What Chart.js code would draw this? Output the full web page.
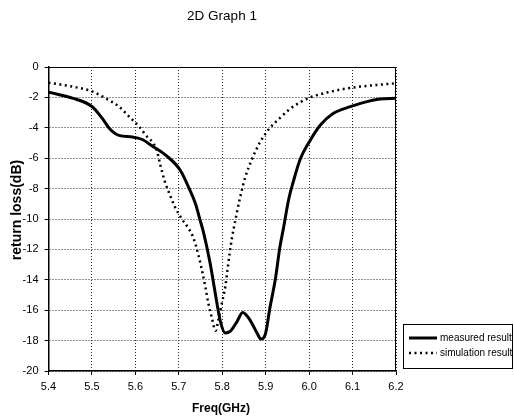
<!DOCTYPE html>
<html><head><meta charset="utf-8">
<script src="https://cdn.jsdelivr.net/npm/chart.js@4/dist/chart.umd.min.js"></script>
<style>html,body{margin:0;padding:0;background:#fff}#wrap{width:514px;height:420px}</style>
</head><body><div id="wrap"><canvas id="c" width="514" height="420"></canvas></div>
<script>
const chartTitle = "2D Graph 1";
const xTitle = "Freq(GHz)";
const yTitle = "return loss(dB)";
const seriesNames = ["measured result", "simulation result"];
const measuredFreq = [5.40,5.455,5.50,5.523,5.542,5.562,5.593,5.616,5.639,5.672,5.703,5.722,5.738,5.749,5.757,5.772,5.784,5.795,5.807,5.818,5.834,5.847,5.864,5.88,5.889,5.899,5.91,5.922,5.933,5.941,5.953,5.964,5.979,6.003,6.026,6.056,6.095,6.133,6.163,6.20];
const measuredLoss = [-1.65,-2.05,-2.6,-3.35,-4.1,-4.5,-4.6,-4.77,-5.2,-5.85,-6.78,-7.88,-8.97,-10.07,-10.9,-12.9,-14.9,-16.65,-17.5,-17.4,-16.75,-16.15,-16.65,-17.5,-17.9,-17.6,-15.8,-14.0,-11.8,-10.6,-8.7,-7.5,-6.1,-4.8,-3.82,-3.05,-2.61,-2.28,-2.11,-2.05];
const simFreq = [5.40,5.455,5.50,5.531,5.562,5.585,5.608,5.623,5.649,5.657,5.668,5.68,5.691,5.707,5.722,5.733,5.745,5.753,5.761,5.768,5.776,5.785,5.791,5.799,5.807,5.812,5.817,5.822,5.83,5.841,5.853,5.868,5.887,5.91,5.933,5.956,5.979,6.003,6.041,6.079,6.118,6.156,6.20];
const simLoss = [-1.03,-1.29,-1.6,-2.05,-2.6,-3.25,-3.9,-4.45,-5.46,-6.4,-7.55,-8.45,-9.2,-10.0,-10.6,-11.2,-12.35,-13.35,-14.45,-15.55,-16.5,-17.35,-16.65,-15.55,-14.45,-13.35,-12.25,-11.3,-10.1,-8.6,-7.25,-6.1,-4.95,-4.0,-3.35,-2.76,-2.33,-1.99,-1.68,-1.45,-1.29,-1.18,-1.07];
const xTicks = [5.4,5.5,5.6,5.7,5.8,5.9,6.0,6.1,6.2];
const yTicks = [0,-2,-4,-6,-8,-10,-12,-14,-16,-18,-20];

const FONT = "'Liberation Sans', Arial, sans-serif";
const NARROW = "'Liberation Sans Narrow', 'Liberation Sans', Arial, sans-serif";
const toPts = (xs, ys) => xs.map((x, i) => ({x, y: ys[i]}));

const extras = {
  id: 'extras',
  afterDraw(chart) {
    const ctx = chart.ctx, a = chart.chartArea;
    ctx.save();
    ctx.strokeStyle = '#000'; ctx.lineWidth = 1;
    ctx.beginPath();
    ctx.moveTo(a.left, a.top + 0.5); ctx.lineTo(a.right - 0.5, a.top + 0.5); ctx.lineTo(a.right - 0.5, a.bottom);
    ctx.stroke();
    ctx.fillStyle = '#000';
    ctx.font = "13.5px " + FONT;
    ctx.textAlign = 'center'; ctx.textBaseline = 'middle';
    ctx.fillText(chartTitle, 222, 16);
    ctx.font = "bold 12px " + FONT;
    ctx.fillText(xTitle, 221, 409);
    ctx.save();
    ctx.translate(17, 210); ctx.rotate(-Math.PI / 2);
    ctx.font = "bold 14px " + FONT;
    ctx.fillText(yTitle, 0, 0);
    ctx.restore();
    const bx = 403, by = 324, bw = 110, bh = 45;
    ctx.fillStyle = '#fff';
    ctx.fillRect(bx, by, bw, bh);
    ctx.strokeStyle = '#000'; ctx.lineWidth = 1;
    ctx.strokeRect(bx + 0.5, by + 0.5, bw - 1, bh - 1);
    ctx.lineWidth = 3; ctx.setLineDash([]);
    ctx.beginPath(); ctx.moveTo(409, 338); ctx.lineTo(437, 338); ctx.stroke();
    ctx.lineWidth = 2.5; ctx.setLineDash([2, 3.5]);
    ctx.beginPath(); ctx.moveTo(409, 353); ctx.lineTo(437, 353); ctx.stroke();
    ctx.setLineDash([]);
    ctx.fillStyle = '#000';
    ctx.font = "10px " + NARROW;
    ctx.textAlign = 'left'; ctx.textBaseline = 'middle';
    ctx.fillText(seriesNames[0], 440, 338);
    ctx.fillText(seriesNames[1], 440, 353);
    ctx.restore();
  }
};

new Chart(document.getElementById('c'), {
  type: 'line',
  data: {
    datasets: [
      { label: seriesNames[0], data: toPts(measuredFreq, measuredLoss), borderColor: '#000', borderWidth: 3, pointRadius: 0, cubicInterpolationMode: 'monotone', fill: false },
      { label: seriesNames[1], data: toPts(simFreq, simLoss), borderColor: '#000', borderWidth: 2.5, borderDash: [2, 3.5], pointRadius: 0, cubicInterpolationMode: 'monotone', fill: false }
    ]
  },
  options: {
    responsive: false, animation: false, devicePixelRatio: 1,
    layout: { padding: { top: 67, right: 118, left: 0, bottom: 0 } },
    plugins: { legend: { display: false }, title: { display: false }, tooltip: { enabled: false } },
    scales: {
      x: {
        type: 'linear', min: 5.4, max: 6.2,
        afterBuildTicks: s => { s.ticks = xTicks.map(v => ({value: v})); },
        afterFit: s => { s.height = 49; },
        ticks: { color: '#000', font: { family: NARROW, size: 11 }, padding: 5, maxRotation: 0, callback: v => v.toFixed(1) },
        grid: { color: '#222', lineWidth: 1, tickLength: 4, tickColor: '#000', drawTicks: true },
        border: { color: '#000', width: 1.5, dash: [1, 2] },
        title: { display: false }
      },
      y: {
        type: 'linear', min: -20, max: 0,
        afterBuildTicks: s => { s.ticks = yTicks.map(v => ({value: v})); },
        afterFit: s => { s.width = 48.5; },
        ticks: { color: '#000', font: { family: NARROW, size: 11 }, padding: 6 },
        grid: { color: '#222', lineWidth: 1, tickLength: 4, tickColor: '#000' },
        border: { color: '#000', width: 1.5, dash: [1, 2] },
        title: { display: false }
      }
    }
  },
  plugins: [extras]
});
</script></body></html>
